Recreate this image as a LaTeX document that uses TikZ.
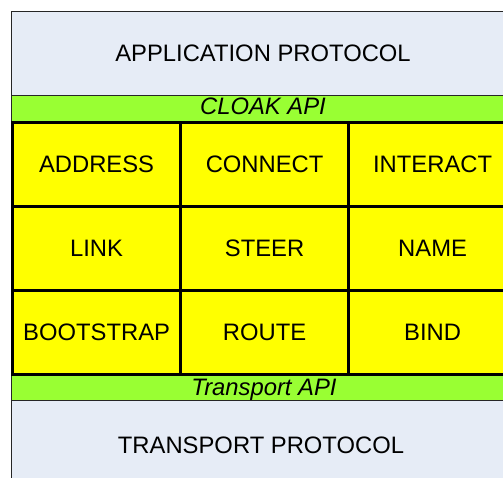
\documentclass[tikz,border=0pt]{standalone}
\usepackage{fontspec}
\setmainfont{Liberation Sans}
\definecolor{protoblue}{HTML}{E6ECF6}
\definecolor{apigreen}{HTML}{99FF33}
\definecolor{modyellow}{HTML}{FFFF00}
\tikzset{
        x=1pt, y=-1pt,
        every node/.style={inner sep=0pt, font=\fontsize{23.8}{28}\selectfont},
        protocol/.style={draw=black!85, line width=1.2pt, fill=protoblue, minimum width=504pt, minimum height=90pt, anchor=north west},
        api/.style={draw=black!85, line width=1pt, fill=apigreen, minimum width=504pt, minimum height=27pt, anchor=north west},
        apilabel/.style={font=\fontsize{23.8}{28}\selectfont\itshape, anchor=base},
        module/.style={draw=black, line width=3.2pt, fill=modyellow, minimum width=168pt, minimum height=84pt, anchor=north west}
          }
\begin{document}
\begin{tikzpicture}
        \fill[white] (0,0) rectangle (503,478);
        \useasboundingbox (0,0) rectangle (503,478);
        \clip (0,0) rectangle (503,478);
        % protocols
        \node[protocol, minimum height=84pt] (app) at (11,11) {};
        \node at (263,53) {APPLICATION PROTOCOL};
        \node[protocol] (transport) at (11,400) {};
        \node at (261,445) {TRANSPORT PROTOCOL};
        % api bands
        \node[api, minimum height=26pt] (cloakapi) at (11,95) {};
        \node[apilabel] at (263,115) {CLOAK API};
        \node[api] (transportapi) at (11,373) {};
        \node[apilabel] at (264,395) {Transport API};
        % modules
        \foreach \name/\label/\col/\row in {
            address/ADDRESS/0/0, connect/CONNECT/1/0, interact/INTERACT/2/0,
            link/LINK/0/1, steer/STEER/1/1, namemod/NAME/2/1,
            bootstrap/BOOTSTRAP/0/2, route/ROUTE/1/2, bind/BIND/2/2}
          \node[module] (\name) at (11+168*\col,121+84*\row) {\label};
      \end{tikzpicture}
\end{document}
